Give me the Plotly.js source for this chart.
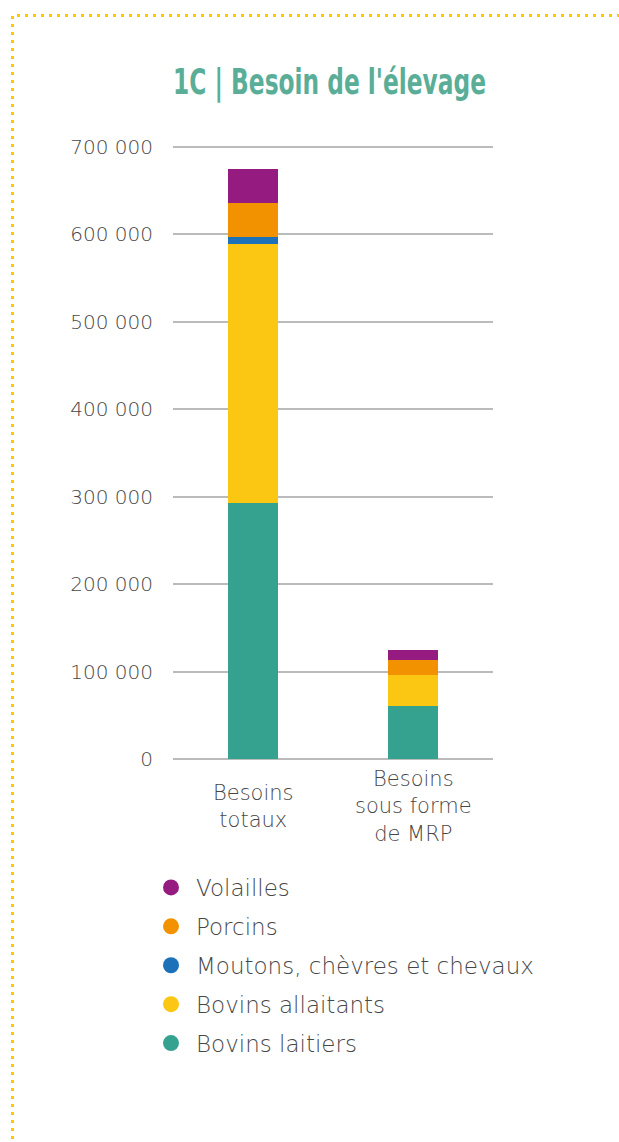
<!DOCTYPE html>
<html>
<head>
<meta charset="utf-8">
<script src="https://cdn.plot.ly/plotly-3.0.1.min.js"></script>
<style>
  html, body {margin: 0; padding: 0; background: #fff;}
  #chart {width: 619px; height: 1142px;}
</style>
</head>
<body>
<div id="chart"></div>
<script>
const categories = ['Besoins totaux', 'Besoins sous forme de MRP'];
const categoryLabels = ['Besoins<br>totaux', 'Besoins<br>sous forme<br>de MRP'];

const seriesNames = ['Bovins laitiers', 'Bovins allaitants', 'Moutons, chèvres et chevaux', 'Porcins', 'Volailles'];
const bovinsLaitiers = [293000, 60500];
const bovinsAllaitants = [296000, 35500];
const moutonsChevres = [8000, 300];
const porcins = [39000, 17000];
const volailles = [39000, 11500];

const seriesColors = ['#35a28f', '#fbc712', '#1d71b8', '#f39200', '#951b81'];
const yTicks = [0, 100000, 200000, 300000, 400000, 500000, 600000, 700000];
const yTickText = ['0', '100 000', '200 000', '300 000', '400 000', '500 000', '600 000', '700 000'];

const seriesValues = [bovinsLaitiers, bovinsAllaitants, moutonsChevres, porcins, volailles];
const baseFont = {family: '"DejaVu Sans", sans-serif', color: '#474747', weight: 200};
const tickFont = Object.assign({}, baseFont, {size: 20});
const catFont = Object.assign({}, baseFont, {size: 21});
const legendFont = Object.assign({}, baseFont, {size: 23});

const traces = [];
seriesValues.forEach((vals, i) => {
    traces.push({
        x: categories, y: vals, type: 'bar', name: seriesNames[i],
        marker: {color: seriesColors[i]}, showlegend: false, hoverinfo: 'y+name'
    });
});
// circle markers for the legend, top item = last series
for (let i = seriesValues.length - 1; i >= 0; i--) {
    traces.push({
        x: [null], y: [null], type: 'scatter', mode: 'markers', name: seriesNames[i],
        legendgroup: 'g' + i,
        marker: {color: seriesColors[i], size: 16, symbol: 'circle'}
    });
}

// plot box: x 173..493, y 145..759 (700 000 sits at y=147, a bit inside the top edge)
const plotTop = 145, plotBottom = 759, plotLeft = 173, plotWidth = 320;
const plotH = plotBottom - plotTop;
const yMax = 700000 * plotH / (plotBottom - 147);
const py = pixY => (plotBottom - pixY) / plotH;
const px = pixX => (pixX - plotLeft) / plotWidth;

const layout = {
    width: 619, height: 1142,
    margin: {l: plotLeft, r: 619 - plotLeft - plotWidth, t: plotTop, b: 1142 - plotBottom, autoexpand: false},
    paper_bgcolor: '#fff', plot_bgcolor: '#fff',
    barmode: 'stack',
    bargap: 0.69,
    showlegend: true,
    title: {
        text: "1C | Besoin de l'élevage",
        font: {family: '"DejaVu Sans Condensed", sans-serif', size: 36, color: '#5aae98', weight: 700},
        x: px(329.5), xref: 'paper', y: 1 - 81 / 1142, yref: 'container', yanchor: 'middle'
    },
    xaxis: {
        type: 'category', range: [-0.5, 1.5], showticklabels: false,
        showgrid: false, zeroline: false, showline: false, fixedrange: true
    },
    yaxis: {
        range: [0, yMax], tickvals: yTicks, ticktext: yTickText,
        tickfont: tickFont, ticks: '', ticklabelstandoff: 19,
        showgrid: true, gridcolor: '#bbbbbb', gridwidth: 2,
        zeroline: true, zerolinecolor: '#bbbbbb', zerolinewidth: 2,
        showline: false, fixedrange: true
    },
    legend: {
        traceorder: 'grouped', tracegroupgap: 6,
        x: px(146), y: py(866), xanchor: 'left', yanchor: 'top',
        font: legendFont, itemwidth: 40
    },
    annotations: categories.map((c, i) => ({
        x: c, y: 0, xref: 'x', yref: 'y', text: categoryLabels[i],
        showarrow: false, yanchor: 'middle', yshift: -47,
        font: catFont, align: 'center'
    })),
    shapes: [{
        type: 'rect', xref: 'paper', yref: 'paper', layer: 'above',
        x0: px(12.5), x1: px(640),
        y0: py(1160), y1: py(15.5),
        line: {color: '#fcc800', width: 3, dash: '3px,5px'}
    }]
};

Plotly.newPlot('chart', traces, layout, {displayModeBar: false, staticPlot: true}).then(gd => {
    // no condensed display face installed: squeeze the title horizontally
    const t = gd.querySelector('.gtitle');
    if (t) {
        const bb = t.getBBox();
        const cx = bb.x + bb.width / 2;
        t.setAttribute('transform', `translate(${cx},0) scale(0.72,1) translate(${-cx},0)`);
    }
});
</script>
</body>
</html>
